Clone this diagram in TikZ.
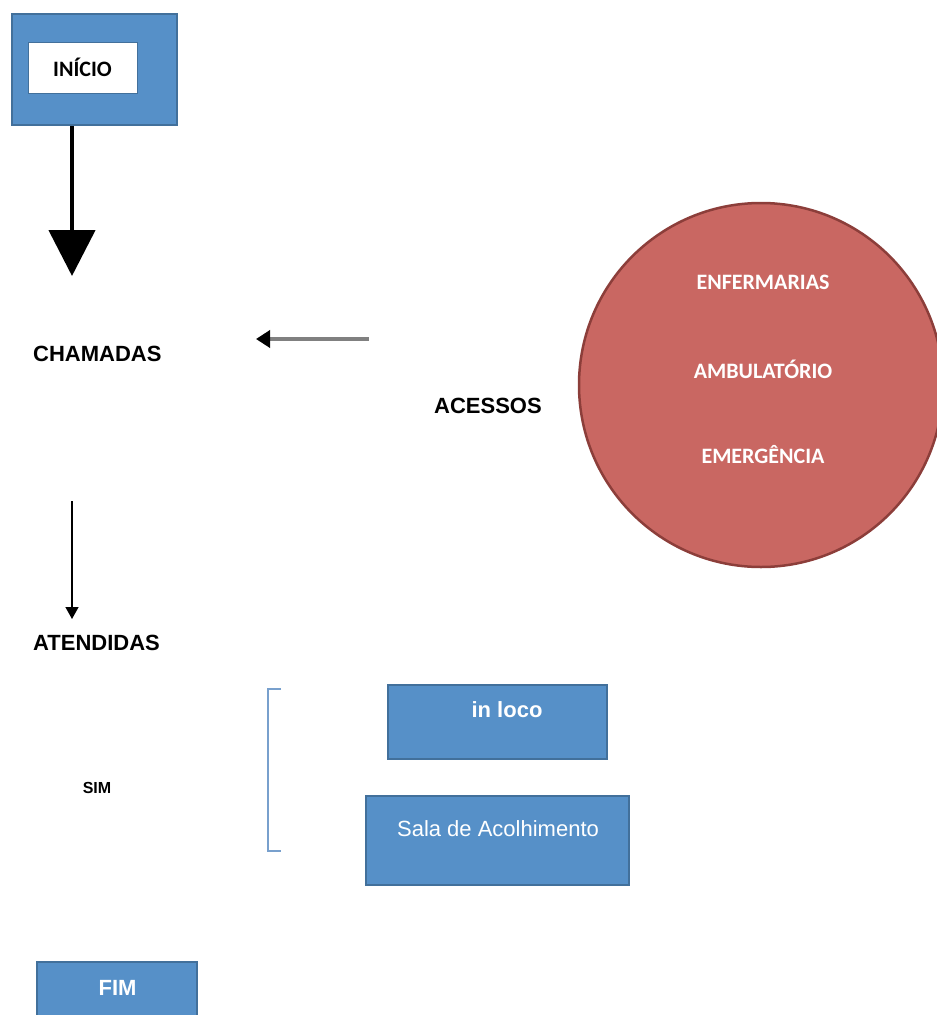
\documentclass[tikz,border=0pt]{standalone}
\usepackage{fontspec}
\setmainfont{Liberation Sans}
\newfontfamily\calib{Carlito}
\usetikzlibrary{arrows.meta}
\definecolor{boxblue}{RGB}{86,144,200}
\definecolor{boxedge}{RGB}{66,112,155}
\definecolor{circfill}{RGB}{201,103,98}
\definecolor{circedge}{RGB}{140,62,58}
\definecolor{bracketblue}{RGB}{120,160,205}
\definecolor{arrowgray}{RGB}{128,128,128}
\tikzset{
  bluebox/.style={draw=boxedge, line width=2.5pt, fill=boxblue, rectangle, inner sep=0pt},
  whitebox/.style={draw=boxedge, line width=1pt, fill=white, rectangle, inner sep=0pt},
  lbl/.style={font=\bfseries\fontsize{22}{24}\selectfont, text=black, inner sep=0pt},
  wlbl/.style={font=\fontsize{22}{24}\selectfont, text=white, inner sep=0pt},
  clbl/.style={font=\calib\bfseries\fontsize{22}{24}\selectfont, text=white, inner sep=0pt},
}
\begin{document}
\begin{tikzpicture}[x=1pt,y=-1pt]
\useasboundingbox (0,0) rectangle (937,1015);

% INICIO
\node[bluebox, minimum width=165pt, minimum height=111pt] (outer) at (94.5,69.5) {};
\node[whitebox, minimum width=109pt, minimum height=51pt, font=\calib\bfseries\fontsize{22}{24}\selectfont] (inicio) at (82.5,67.5) {INÍCIO};
\coordinate (tipA) at (72,276);
\draw[line width=4.5pt, -{Triangle[width=46pt,length=46pt]}] (outer.south -| tipA) -- (tipA);

% CHAMADAS
\node[lbl, anchor=west] (chamadas) at (33,354) {CHAMADAS};

% ACESSOS
\node[lbl, anchor=west] (acessos) at (434,406) {ACESSOS};
\coordinate (grayStart) at (369,339);
\coordinate (grayEnd) at (256,339);
\draw[arrowgray, line width=4pt, -{Triangle[width=17pt,length=14pt,fill=black,color=black]}] (grayStart) -- (grayEnd);

% Circle
\node[circle, draw=circedge, line width=2.5pt, fill=circfill, minimum size=364pt, inner sep=0pt] (circ) at (761,385) {};
\node[clbl] (enf) at (763,282) {ENFERMARIAS};
\node[clbl] (amb) at (763,369) {AMBULATÓRIO};
\node[clbl] (emg) at (763,455) {EMERGÊNCIA};

% ATENDIDAS
\node[lbl, anchor=west] (atendidas) at (33,643) {ATENDIDAS};
\coordinate (thinStart) at (72,501);
\coordinate (thinEnd) at (72,619);
\draw[line width=1.4pt, -{Triangle[width=13pt,length=12pt]}] (thinStart) -- (thinEnd);

% SIM
\node[font=\bfseries\fontsize{16}{18}\selectfont, inner sep=0pt] (sim) at (97,788) {SIM};

% bracket
\coordinate (brA) at (281,689);
\coordinate (brB) at (281,851);
\draw[bracketblue, line width=1.2pt] (brA) -- ++(-13,0) |- (brB);

% in loco
\node[bluebox, minimum width=219pt, minimum height=74pt] (inloco) at (497.5,722) {};
\node[wlbl, font=\bfseries\fontsize{22}{24}\selectfont] (inlocotxt) at (507,710) {in loco};

% Sala de Acolhimento
\node[bluebox, minimum width=263pt, minimum height=89pt] (sala) at (497.5,840.5) {};
\node[wlbl] (salatxt) at (498,829) {Sala de Acolhimento};

% FIM
\node[bluebox, minimum width=160pt, minimum height=80pt] (fim) at (117,1002) {};
\node[wlbl, font=\bfseries\fontsize{22}{24}\selectfont] (fimtxt) at (117.5,988) {FIM};
\end{tikzpicture}
\end{document}
